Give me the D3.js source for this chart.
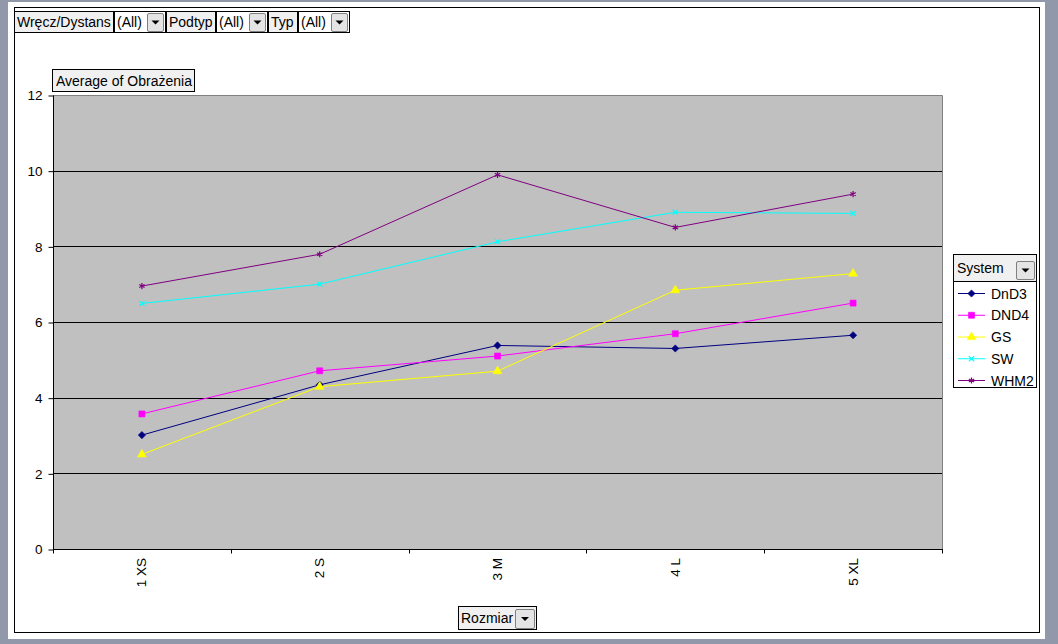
<!DOCTYPE html>
<html><head><meta charset="utf-8">
<script src="https://cdn.jsdelivr.net/npm/d3@7"></script>
<style>
html,body{margin:0;padding:0;background:#9198aa;}
svg{display:block;font-family:Arial,"Liberation Sans",sans-serif;}
</style></head>
<body><svg id="c" width="1058" height="644"></svg>
<script>
const categories = ["1 XS","2 S","3 M","4 L","5 XL"];
const seriesNames = ["DnD3","DND4","GS","SW","WHM2"];
const dnd3 = [3.01,4.34,5.38,5.30,5.65];
const dnd4 = [3.57,4.71,5.10,5.69,6.50];
const gs   = [2.50,4.29,4.70,6.84,7.28];
const sw   = [6.49,7.00,8.12,8.90,8.87];
const whm2 = [6.95,7.79,9.89,8.50,9.38];
const yTicks = [0,2,4,6,8,10,12];
const filterFields = ["Wręcz/Dystans","Podtyp","Typ"];
const filterValues = ["(All)","(All)","(All)"];

const seriesValues = [dnd3,dnd4,gs,sw,whm2];
const colors = ["#000080","#ff00ff","#ffff00","#00ffff","#800080"];
const symbols = [d3.symbolSquare,d3.symbolSquare,d3.symbolTriangle,d3.symbolX,d3.symbolAsterisk];
const symRot = [45,0,0,0,0];
const symSizes = [26,36,34,20,26];
const symFilled = [true,true,true,false,false];
const FS = 14, AFS = 13.5;

const svg = d3.select("#c");
svg.append("rect").attr("x",8).attr("y",2).attr("width",1037).attr("height",637).attr("fill","#fff");
svg.append("rect").attr("x",14.5).attr("y",7.5).attr("width",1025).attr("height",625).attr("fill","none").attr("stroke","#000");

const L=53,R=942,T=95,B=549;
const x = d3.scaleBand().domain(categories).range([L,R]);
const y = d3.scaleLinear().domain([0,12]).range([B,T]);
const cx = c => x(c)+x.bandwidth()/2;

svg.append("rect").attr("x",L).attr("y",T).attr("width",R-L).attr("height",B-T).attr("fill","#c0c0c0");
svg.append("path").attr("d",`M${L},${T+0.5}H${R+0.5}V${B}`).attr("fill","none").attr("stroke","#808080");

svg.append("g").selectAll("line").data(yTicks.filter(v=>v>0&&v<12)).join("line")
  .attr("x1",L).attr("x2",R).attr("y1",d=>Math.round(y(d))+0.5).attr("y2",d=>Math.round(y(d))+0.5)
  .attr("stroke","#000");

const ya = svg.append("g").attr("transform",`translate(${L+0.5},0.5)`)
  .call(d3.axisLeft(y).tickValues(yTicks).tickSize(5).tickPadding(6).tickFormat(d3.format("d")));
ya.select(".domain").attr("d",`M0,${T}V${B}`).attr("stroke","#000");
ya.selectAll("text").attr("font-size",AFS).attr("font-family","Arial, 'Liberation Sans'").attr("fill","#000");
ya.selectAll(".tick line").attr("stroke","#000");

const xa = svg.append("g").attr("transform",`translate(0,${B+0.5})`);
xa.append("line").attr("x1",L).attr("x2",R+1).attr("stroke","#000");
const bounds = categories.map(c=>x(c)).concat([x(categories[categories.length-1])+x.bandwidth()]);
xa.selectAll("line.t").data(bounds).join("line").attr("class","t")
  .attr("x1",d=>Math.round(d)+0.5).attr("x2",d=>Math.round(d)+0.5).attr("y1",0).attr("y2",4).attr("stroke","#000");
xa.selectAll("text").data(categories).join("text")
  .attr("transform",d=>`translate(${cx(d)+4.5},8.5) rotate(-90)`)
  .attr("text-anchor","end").attr("font-size",AFS).attr("fill","#000").text(d=>d);

const line = d3.line().x((d,i)=>cx(categories[i])).y(d=>y(d));
seriesValues.forEach((vals,si)=>{
  svg.append("path").datum(vals).attr("d",line).attr("fill","none").attr("stroke",colors[si]).attr("stroke-width",1);
});
function marker(sel,si){
  sel.attr("d",d3.symbol().type(symbols[si]).size(symSizes[si]))
    .attr("fill",symFilled[si]?colors[si]:"none")
    .attr("stroke",colors[si]).attr("stroke-width",symFilled[si]?0.6:1.2);
}
seriesValues.forEach((vals,si)=>{
  svg.append("g").selectAll("path").data(vals).join("path")
    .attr("transform",(d,i)=>`translate(${cx(categories[i])},${y(d)}) rotate(${symRot[si]})`)
    .call(marker,si);
});

function dropBtn(g,bx,by,w,h){
  g.append("rect").attr("x",bx+0.5).attr("y",by+0.5).attr("width",w).attr("height",h)
    .attr("fill","#e4e4e4").attr("stroke","#808080").attr("rx",1.5);
  const mx = bx+w/2+0.5, my = by+h/2+0.5;
  g.append("path").attr("d",`M${mx-4},${my-2}L${mx+4},${my-2}L${mx},${my+2}Z`).attr("fill","#000");
}

const fb = svg.append("g");
const fieldBoxes = [[14,113],[166,215],[268,297]];
const valBoxes = [[114,165],[216,267],[298,349]];
filterFields.forEach((f,i)=>{
  const [a,b]=fieldBoxes[i];
  fb.append("rect").attr("x",a+0.5).attr("y",11.5).attr("width",b-a).attr("height",21).attr("fill","#f0f0f0").attr("stroke","#000");
  fb.append("text").attr("x",a+3).attr("y",27).attr("font-size",FS).attr("fill","#000").text(f);
  const [c,d]=valBoxes[i];
  fb.append("rect").attr("x",c+0.5).attr("y",11.5).attr("width",d-c).attr("height",21).attr("fill","#fff").attr("stroke","#000");
  fb.append("text").attr("x",c+3).attr("y",27).attr("font-size",FS).attr("fill","#000").text(filterValues[i]);
  dropBtn(fb,d-18,13,16,18);
});

svg.append("rect").attr("x",52.5).attr("y",69.5).attr("width",142).attr("height",22).attr("fill","#f0f0f0").attr("stroke","#000");
svg.append("text").attr("x",56).attr("y",86).attr("font-size",FS).attr("fill","#000").text("Average of Obrażenia");

const lg = svg.append("g");
lg.append("rect").attr("x",953.5).attr("y",254.5).attr("width",83).attr("height",133).attr("fill","#fff").attr("stroke","#000");
lg.append("rect").attr("x",953.5).attr("y",254.5).attr("width",83).attr("height",27).attr("fill","#f0f0f0").attr("stroke","#000");
lg.append("text").attr("x",957).attr("y",273).attr("font-size",FS).attr("fill","#000").text("System");
dropBtn(lg,1016,261,18,18);
const ly = d3.scalePoint().domain(seriesNames).range([293.5,380.5]);
seriesNames.forEach((s,si)=>{
  const yy = ly(s);
  lg.append("line").attr("x1",958).attr("x2",985).attr("y1",yy).attr("y2",yy).attr("stroke",colors[si]).attr("stroke-width",1);
  lg.append("path").attr("transform",`translate(971.5,${yy}) rotate(${symRot[si]})`).call(marker,si);
  lg.append("text").attr("x",991).attr("y",yy+5).attr("font-size",FS).attr("fill","#000").text(s);
});

svg.append("rect").attr("x",458.5).attr("y",606.5).attr("width",78).attr("height",23).attr("fill","#f0f0f0").attr("stroke","#000");
svg.append("text").attr("x",461).attr("y",623).attr("font-size",FS).attr("fill","#000").text("Rozmiar");
dropBtn(svg,515,609,19,19);
</script></body></html>
